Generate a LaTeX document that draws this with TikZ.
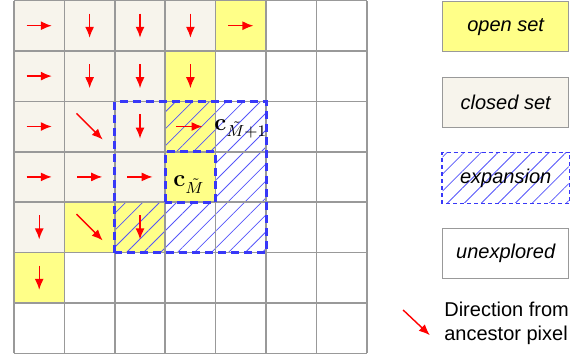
\documentclass[tikz,border=0pt]{standalone}
\usepackage[no-math]{fontspec}
\setmainfont{Liberation Sans}
\usetikzlibrary{arrows.meta,patterns.meta}

\definecolor{openset}{HTML}{FFFF88}
\definecolor{closedset}{HTML}{F7F4EC}
\definecolor{gridgray}{HTML}{999999}
\definecolor{expblue}{HTML}{3838F8}

\tikzset{
  ancestor/.style={red, line width=0.7pt, -{Latex[length=5.5pt,width=4.5pt]}},
  hatch/.style={pattern={Lines[angle=45,distance=6pt,line width=0.4pt]}, pattern color=expblue!85},
  legendbox/.style={draw=gridgray, line width=0.7pt, minimum width=63pt, minimum height=25pt, inner sep=0pt, font=\itshape},
}

\begin{document}
\begin{tikzpicture}[x=25.2pt,y=25.2pt]
  \useasboundingbox (-0.278,-0.173) rectangle (11.19,7.01);
  % closed and open cells
  \foreach \c/\r in {0/0,1/0,2/0,3/0,0/1,1/1,2/1,0/2,1/2,2/2,0/3,1/3,2/3,0/4}
    \fill[closedset] (\c,6-\r) rectangle ++(1,1);
  \foreach \c/\r in {4/0,3/1,3/2,3/3,1/4,2/4,0/5}
    \fill[openset] (\c,6-\r) rectangle ++(1,1);
  % expansion hatching
  \foreach \c/\r in {3/2,4/2,4/3,2/4,3/4,4/4}
    \fill[hatch] (\c,6-\r) rectangle ++(1,1);
  \draw[gridgray, line width=0.8pt, step=1] (0,0) grid (7,7);
  \draw[expblue, line width=1.5pt, dash pattern=on 4pt off 2.5pt] (2,2) rectangle (5,5);
  \draw[expblue, line width=1.5pt, dash pattern=on 4pt off 2.5pt] (3,3) rectangle (4,4);
  % directions from ancestor pixels
  \foreach \c/\r/\dx/\dy in {0/0/0.25/0,1/0/0/-0.24,2/0/0/-0.24,3/0/0/-0.24,4/0/0.25/0,
      0/1/0.25/0,1/1/0/-0.24,2/1/0/-0.24,3/1/0/-0.24,
      0/2/0.25/0,1/2/0.26/-0.26,2/2/0/-0.24,
      0/3/0.25/0,1/3/0.25/0,2/3/0.25/0,
      0/4/0/-0.24,1/4/0.26/-0.26,2/4/0/-0.24,
      0/5/0/-0.24}
    \draw[ancestor] (\c+0.5-\dx,6.5-\r-\dy) -- (\c+0.5+\dx,6.5-\r+\dy);
  \draw[ancestor] (3.22,4.5) -- (3.74,4.5);
  \node[font=\large] (cnext) at (4.5,4.45) {$\mathbf{c}_{\tilde{M}+1}$};
  \node[font=\large] (ccur) at (3.47,3.35) {$\mathbf{c}_{\tilde{M}}$};
  % legend
  \node[legendbox, fill=openset] (lopen) at (9.755,6.48) {open set};
  \node[legendbox, fill=closedset] (lclosed) at (9.755,4.98) {closed set};
  \node[legendbox, draw=none, hatch] (lexp) at (9.755,3.48) {};
  \draw[expblue, line width=0.7pt, dash pattern=on 2pt off 1.5pt] (lexp.south west) rectangle (lexp.north east);
  \node[font=\itshape] at (lexp) {expansion};
  \node[legendbox] (lunexp) at (9.755,1.98) {unexplored};
  \coordinate (dstart) at (7.72,0.86);
  \coordinate (dend) at (8.25,0.36);
  \draw[ancestor] (dstart) -- (dend);
  \node[anchor=west, align=left, inner sep=0pt] (ldir) at (8.53,0.6) {Direction from\\ancestor pixel};
\end{tikzpicture}
\end{document}
